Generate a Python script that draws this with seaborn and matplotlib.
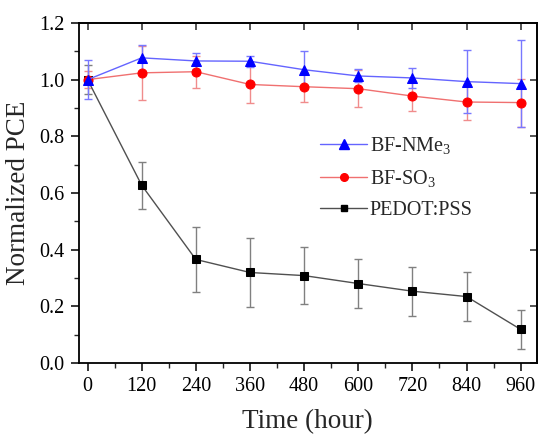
import numpy as np
import pandas as pd
import matplotlib
matplotlib.use("Agg")
import matplotlib.pyplot as plt
import seaborn as sns

# values
time_h = [0, 120, 240, 360, 480, 600, 720, 840, 960]
nme3 = [1.000, 1.077, 1.066, 1.065, 1.035, 1.013, 1.006, 0.993, 0.986]
nme3_err = [0.070, 0.047, 0.028, 0.020, 0.066, 0.023, 0.034, 0.112, 0.155]
so3 = [1.000, 1.024, 1.028, 0.983, 0.975, 0.968, 0.942, 0.921, 0.919]
so3_err = [0.030, 0.096, 0.057, 0.064, 0.053, 0.066, 0.053, 0.064, 0.085]
pedot = [1.000, 0.627, 0.365, 0.319, 0.308, 0.280, 0.253, 0.234, 0.118]
pedot_err = [0.050, 0.083, 0.114, 0.121, 0.102, 0.086, 0.087, 0.086, 0.068]

series_names = ["BF-NMe$_3$", "BF-SO$_3$", "PEDOT:PSS"]
xticks = [0, 120, 240, 360, 480, 600, 720, 840, 960]
yticks = [0.0, 0.2, 0.4, 0.6, 0.8, 1.0, 1.2]

sns.set_theme(style="ticks")
plt.rcParams['font.family'] = ['Liberation Serif', 'DejaVu Serif']
plt.rcParams['mathtext.fontset'] = 'custom'
plt.rcParams['mathtext.rm'] = 'Liberation Serif'
plt.rcParams['mathtext.it'] = 'Liberation Serif:italic'

df = pd.DataFrame({
    "time": time_h * 3,
    "pce": nme3 + so3 + pedot,
    "err": nme3_err + so3_err + pedot_err,
    "name": [series_names[0]] * 9 + [series_names[1]] * 9 + [series_names[2]] * 9,
})

styles = {
    series_names[0]: dict(line="#6464ff", mk="#0000ff", err="#7878ff", marker="^", ms=7.5),
    series_names[1]: dict(line="#f07070", mk="#ff0000", err="#f08c8c", marker="o", ms=6.5),
    series_names[2]: dict(line="#505050", mk="#000000", err="#808080", marker="s", ms=5.8),
}

fig = plt.figure(figsize=(5.38, 4.34), dpi=100)
ax = fig.add_axes([0.146, 0.164, 0.852, 0.783])

# draw PEDOT first so coloured series sit on top
for name in [series_names[2], series_names[1], series_names[0]]:
    sub = df[df["name"] == name]
    st = styles[name]
    ax.errorbar(sub["time"], sub["pce"], yerr=sub["err"], fmt="none",
                ecolor=st["err"], elinewidth=1.0, capsize=3.2, capthick=1.0, zorder=2)
    sns.lineplot(data=sub, x="time", y="pce", ax=ax, color=st["line"], linewidth=1.0,
                 marker=st["marker"], markersize=st["ms"], markerfacecolor=st["mk"],
                 markeredgecolor=st["mk"], label=name, zorder=3, legend=False)

ax.set_xlim(-20, 996)
ax.set_ylim(0, 1.2)
ax.set_xticks(xticks)
ax.set_yticks(yticks)
ax.set_yticklabels([f"{v:.1f}" for v in yticks])
ax.set_xticks(np.arange(60, 1000, 120), minor=True)
ax.set_yticks(np.arange(0.1, 1.2, 0.2), minor=True)
ax.tick_params(which="major", direction="out", length=6, width=1.1, labelsize=14.5,
               colors="black", pad=4)
ax.tick_params(which="minor", direction="out", length=3.5, width=1.0)

for sp in ax.spines.values():
    sp.set_linewidth(1.3)
    sp.set_color("black")
    sp.set_visible(True)

sec_x = ax.secondary_xaxis("top")
sec_x.set_xticks(xticks)
sec_x.set_xticklabels([])
sec_x.tick_params(direction="in", length=5, width=1.1)
sec_y = ax.secondary_yaxis("right")
sec_y.set_yticks(yticks)
sec_y.set_yticklabels([])
sec_y.tick_params(direction="in", length=5, width=1.1)

ax.set_xlabel("Time (hour)", fontsize=19.5, labelpad=10)
ax.set_ylabel("Normalized PCE", fontsize=19.5, labelpad=6)

handles = []
for name in series_names:
    st = styles[name]
    h, = ax.plot([], [], color=st["line"], linewidth=1.0, marker=st["marker"],
                 markersize=st["ms"] - 1.0, markerfacecolor=st["mk"], markeredgecolor=st["mk"])
    handles.append(h)
ax.legend(handles, series_names, loc="upper left", bbox_to_anchor=(0.51, 0.695),
          frameon=False, fontsize=14.5, handlelength=2.3, handletextpad=0.15,
          labelspacing=0.6, borderaxespad=0)

fig.savefig("out.png", dpi=100)
